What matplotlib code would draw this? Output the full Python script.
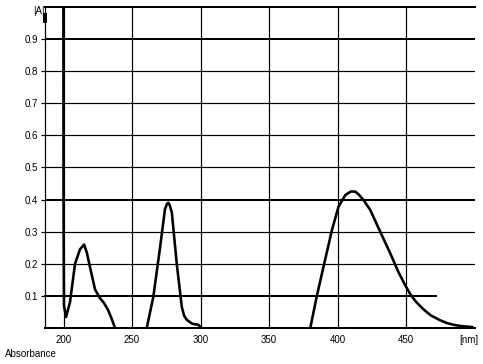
import numpy as np
import matplotlib
matplotlib.use('Agg')
import matplotlib.pyplot as plt

plt.rcParams['font.family'] = 'Liberation Sans'

# spectrum pieces (nm, absorbance); gaps are off-scale below 0
edge_nm = [186.5, 186.5]
edge_A = [0.98, 0.95]

band1_nm = [199.9, 200.0, 200.3, 201.8, 204.7, 208.4, 212.0, 215.0, 217.0, 219.3, 223.0,
            226.6, 229.5, 232.5, 235.0, 237.6]
band1_A = [1.05, 0.39, 0.07, 0.034, 0.08, 0.20, 0.245, 0.26, 0.235, 0.19, 0.12,
           0.093, 0.078, 0.056, 0.03, 0.0]

band2_nm = [260.7, 265.5, 270.4, 274.0, 275.5, 276.5, 277.5, 279.0, 282.6, 286.3, 288.0,
            290.0, 294.0, 298.4, 300.4]
band2_A = [0.0, 0.097, 0.25, 0.37, 0.387, 0.39, 0.382, 0.36, 0.20, 0.065, 0.038,
           0.025, 0.013, 0.01, 0.0]

band3_nm = [380.0, 384.8, 389.6, 395.8, 400.6, 405.5, 409.5, 412.8, 415.5, 418.8, 423.7,
            431.0, 438.3, 444.0, 449.0, 453.0, 457.0, 462.6, 468.0, 474.8, 480.0, 484.5,
            490.0, 498.0]
band3_A = [0.0, 0.10, 0.19, 0.305, 0.378, 0.414, 0.425, 0.425, 0.415, 0.399, 0.368,
           0.30, 0.233, 0.177, 0.135, 0.105, 0.082, 0.058, 0.039, 0.024, 0.015, 0.01,
           0.006, 0.003]

x_ticks = [200, 250, 300, 350, 400, 450]
y_ticks = [0.1, 0.2, 0.3, 0.4, 0.5, 0.6, 0.7, 0.8, 0.9]
y_labels = ['0.1', '0.2', '0.3', '0.4', '0.5', '0.6', '0.7', '0.8', '0.9']
thick_rows = [0.9, 0.4]

fig = plt.figure(figsize=(4.83, 3.64), dpi=100)
ax = fig.add_axes([0.0932, 0.0989, 0.8898, 0.8819])
ax.set_xlim(186.5, 500)
ax.set_ylim(0, 1.0)

px = 0.72  # one pixel in points

# grid
for x in x_ticks:
    ax.axvline(x, color='black', lw=1.2 * px, zorder=1)
for y in y_ticks:
    if y == 0.1:
        ax.plot([186.5, 472], [y, y], color='black', lw=2 * px, zorder=1, clip_on=False)
    elif y in thick_rows:
        ax.axhline(y, color='black', lw=2 * px, zorder=1)
    else:
        ax.axhline(y, color='black', lw=1.2 * px, zorder=1)

# spectrum
ax.plot(edge_nm, edge_A, color='black', lw=4 * px, zorder=5, clip_on=False,
        solid_capstyle='butt')
for nm, a in [(band1_nm, band1_A), (band2_nm, band2_A), (band3_nm, band3_A)]:
    ax.plot(nm, a, color='black', lw=2.6 * px, zorder=3)

ax.spines['right'].set_visible(False)
ax.spines['top'].set_linewidth(2 * px)
ax.spines['bottom'].set_linewidth(2 * px)
ax.spines['left'].set_linewidth(1.2 * px)

ax.set_xticks(x_ticks)
ax.set_xticklabels([str(v) for v in x_ticks], fontsize=7)
ax.set_yticks(y_ticks)
ax.set_yticklabels(y_labels, fontsize=7)
ax.tick_params(axis='x', length=0, pad=5)
ax.tick_params(axis='y', length=3, width=1.2 * px, pad=2)

fig.text(33 / 483, 1 - 11 / 364, '|A|', fontsize=7, ha='left', va='center')
fig.text(459 / 483, 1 - 340 / 364, '[nm]', fontsize=7, ha='left', va='center')
fig.text(5 / 483, 1 - 354 / 364, 'Absorbance', fontsize=7, ha='left', va='center')

fig.savefig('out.png', dpi=100)
